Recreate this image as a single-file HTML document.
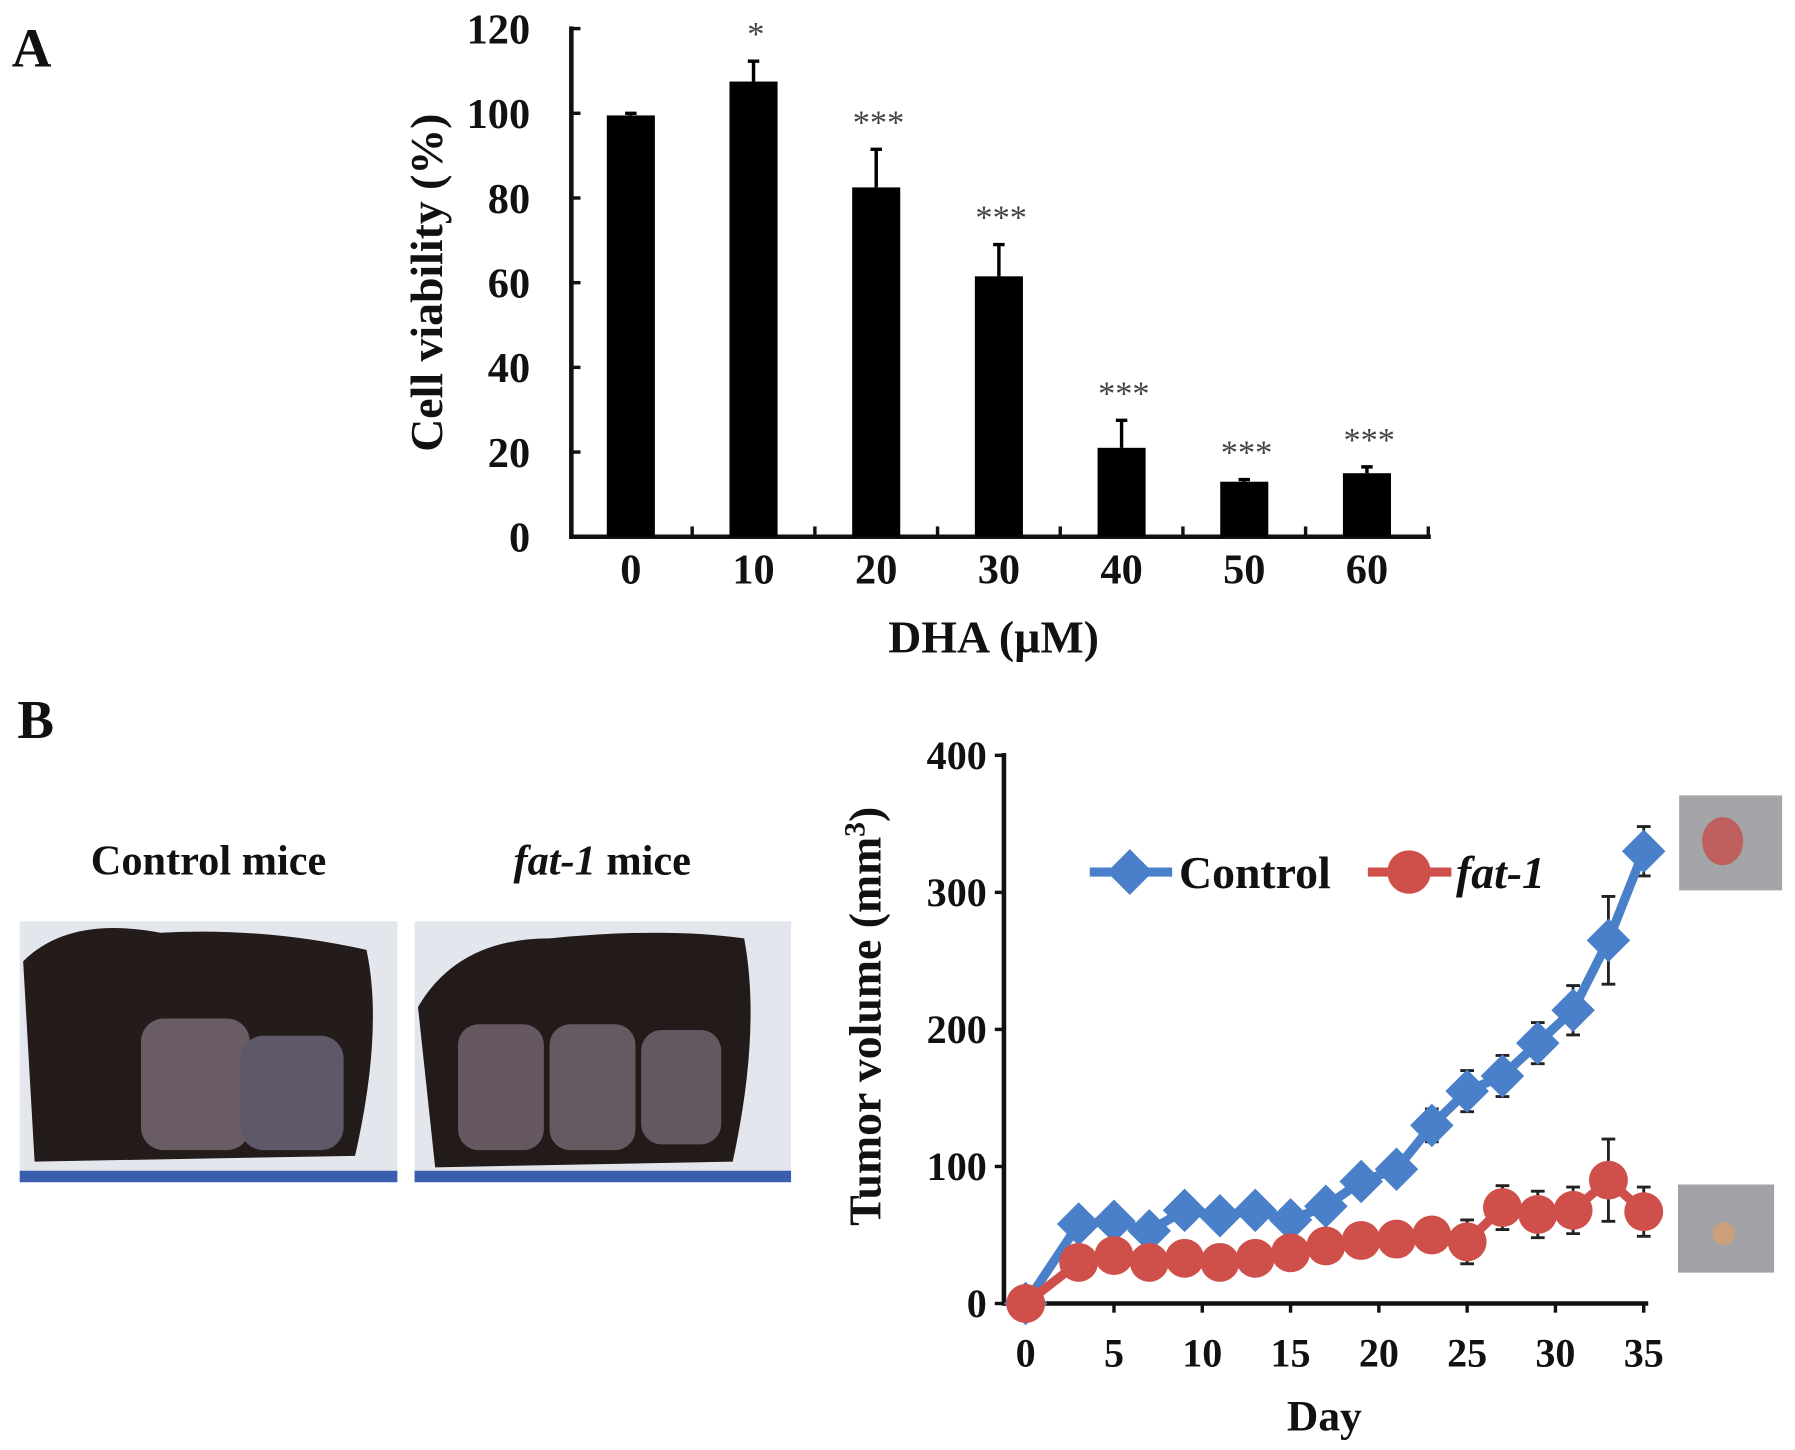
<!DOCTYPE html>
<html><head><meta charset="utf-8"><style>
html,body{margin:0;padding:0;background:#fff;}
svg{display:block;}
text{font-family:"Liberation Serif",serif;font-weight:bold;fill:#111;}
</style></head><body>
<svg id="fig" width="1795" height="1450" viewBox="0 0 1568 1267" xmlns="http://www.w3.org/2000/svg">
<text x="10" y="58" font-size="48">A</text>
<text x="15" y="645" font-size="48">B</text>
<g id="chartA"></g>
<text x="868" y="570" font-size="40" text-anchor="middle">DHA (µM)</text>
<text transform="translate(386,247) rotate(-90)" font-size="40" text-anchor="middle">Cell viability (%)</text>

<text x="182" y="764" font-size="37" text-anchor="middle">Control mice</text>
<text x="526" y="764" font-size="37" text-anchor="middle"><tspan font-style="italic">fat-1</tspan> mice</text>

<g>
<rect x="17" y="805" width="330" height="228" fill="#e4e6ee"/>
<path d="M20 840 Q60 800 140 815 Q230 810 320 830 Q335 900 310 1010 L30 1015 Z" fill="#231c1a"/>
<rect x="123" y="890" width="95" height="115" rx="20" fill="#6a5c64"/>
<rect x="210" y="905" width="90" height="100" rx="20" fill="#5f5868"/>
<rect x="17" y="1023" width="330" height="10" fill="#3a5fae"/>
</g>
<g>
<rect x="362" y="805" width="329" height="228" fill="#e4e6ee"/>
<path d="M365 880 Q400 820 480 820 Q580 810 650 820 Q665 900 640 1015 L380 1020 Z" fill="#221b1a"/>
<rect x="400" y="895" width="75" height="110" rx="18" fill="#655860"/>
<rect x="480" y="895" width="75" height="110" rx="18" fill="#665a62"/>
<rect x="560" y="900" width="70" height="100" rx="18" fill="#625860"/>
<rect x="362" y="1023" width="329" height="10" fill="#3a5fae"/>
</g>
<g>
<rect x="1467" y="695" width="90" height="83" fill="#a3a5a8"/>
<ellipse cx="1505" cy="735" rx="18" ry="21" fill="#c0605e"/>
</g>
<g>
<rect x="1466" y="1035" width="84" height="77" fill="#a0a2a5"/>
<circle cx="1506" cy="1078" r="10" fill="#c9a07a"/>
</g>
<g id="chartB"></g>
<text x="1157" y="1250" font-size="38" text-anchor="middle">Day</text>
<text transform="translate(769,888) rotate(-90)" font-size="40" text-anchor="middle">Tumor volume (mm<tspan font-size="26" dy="-14">3</tspan><tspan dy="14">)</tspan></text>
</svg>
<script>
const NS='http://www.w3.org/2000/svg';
function mk(tag,attrs,parent){const e=document.createElementNS(NS,tag);for(const k in attrs)e.setAttribute(k,attrs[k]);parent.appendChild(e);return e;}

// ---- Chart A data ----
const doseCats=['0','10','20','30','40','50','60'];
const viability=[99.5,107.5,82.5,61.5,21,13,15];
const viabilityErr=[0.5,4.8,9,7.5,6.5,0.5,1.5];
const signif=['','*','***','***','***','***','***'];
const yTicksA=[0,20,40,60,80,100,120];

// ---- Chart B data ----
const days=[0,3,5,7,9,11,13,15,17,19,21,23,25,27,29,31,33,35];
const controlVol=[0,58,60,53,68,64,68,61,71,89,98,130,155,166,190,214,265,330];
const controlErr=[0,5,4,4,4,4,4,4,5,8,10,12,15,15,15,18,32,18];
const fatVol=[0,30,35,30,33,30,33,37,42,46,47,50,45,70,65,68,90,67];
const fatErr=[0,3,3,3,3,3,3,3,4,6,10,10,16,16,17,17,30,18];
const yTicksB=[0,100,200,300,400];
const xTicksB=[0,5,10,15,20,25,30,35];

// Chart A
(function(){
 const g=document.getElementById('chartA');
 const x0=499,x1=1250,yb=469,yt=25;
 const y=v=>yb-(v/120)*(yb-yt);
 const step=107.2, xc=i=>551+i*step;
 let e=mk('line',{x1:x0,y1:yt-2,x2:x0,y2:yb+2,stroke:'#111','stroke-width':4},g);
 
 
 e=mk('line',{x1:x0,y1:yb,x2:x1,y2:yb,stroke:'#111','stroke-width':4},g);
 
 
 yTicksA.forEach(v=>{
  mk('line',{x1:x0,y1:y(v),x2:x0+8,y2:y(v),stroke:'#111','stroke-width':3},g);
  const t=mk('text',{x:463,y:y(v)+13,'font-size':37,'text-anchor':'end'},g);t.textContent=v;
  
  
 });
 doseCats.forEach((c,i)=>{
  mk('line',{x1:xc(i)+step/2,y1:yb,x2:xc(i)+step/2,y2:yb-9,stroke:'#111','stroke-width':3},g);
  const t=mk('text',{x:xc(i),y:510,'font-size':37,'text-anchor':'middle'},g);t.textContent=c;
  
  
  const b=mk('rect',{x:xc(i)-21,y:y(viability[i]),width:42,height:yb-y(viability[i]),fill:'#000'},g);
  
  
  const top=y(viability[i]+viabilityErr[i]);
  const eb=mk('path',{d:`M${xc(i)} ${y(viability[i])} V${top} M${xc(i)-5} ${top} H${xc(i)+5}`,stroke:'#000','stroke-width':3,fill:'none'},g);
  
  
  if(signif[i]){const s=mk('text',{x:xc(i)+2,y:top-14,'font-size':30,'text-anchor':'middle',style:'fill:#444;font-weight:normal'},g);s.textContent=signif[i];
  
  }
 });
})();

// Chart B
(function(){
 const g=document.getElementById('chartB');
 const x0=877,x1=1440,yb=1139,yt=660;
 const y=v=>yb-(v/400)*(yb-yt);
 const x=d=>896+d*15.43;
 let e=mk('line',{x1:x0,y1:yt-2,x2:x0,y2:yb+2,stroke:'#111','stroke-width':4},g);
 
 
 e=mk('line',{x1:x0,y1:yb,x2:x1,y2:yb,stroke:'#111','stroke-width':4},g);
 
 
 yTicksB.forEach(v=>{
  mk('line',{x1:x0-8,y1:y(v),x2:x0,y2:y(v),stroke:'#111','stroke-width':3},g);
  const t=mk('text',{x:862,y:y(v)+12,'font-size':35,'text-anchor':'end'},g);t.textContent=v;
  
  
 });
 xTicksB.forEach(v=>{
  mk('line',{x1:x(v),y1:yb,x2:x(v),y2:yb+8,stroke:'#111','stroke-width':3},g);
  const t=mk('text',{x:x(v),y:1194,'font-size':35,'text-anchor':'middle'},g);t.textContent=v;
  
  
 });
 function series(vals,errs,color,shape,name){
  const sg=mk('g',{},g);
  
  
  days.forEach((d,i)=>{if(errs[i]>0){const p=mk('path',{d:`M${x(d)} ${y(vals[i]-errs[i])} V${y(vals[i]+errs[i])} M${x(d)-6} ${y(vals[i]-errs[i])} H${x(d)+6} M${x(d)-6} ${y(vals[i]+errs[i])} H${x(d)+6}`,stroke:'#222','stroke-width':2.5,fill:'none'},sg);
   
   }});
  const pl=mk('polyline',{points:days.map((d,i)=>x(d)+','+y(vals[i])).join(' '),fill:'none',stroke:color,'stroke-width':8,'stroke-linejoin':'round'},sg);
  
  
  days.forEach((d,i)=>{
   const cx=x(d),cy=y(vals[i]);
   let m;
   if(shape==='d') m=mk('path',{d:`M${cx} ${cy-19} L${cx+19} ${cy} L${cx} ${cy+19} L${cx-19} ${cy} Z`,fill:color},sg);
   else m=mk('circle',{cx,cy,r:17,fill:color},sg);
   
   
  });
 }
 series(controlVol,controlErr,'#4a80c9','d','control');
 series(fatVol,fatErr,'#cf4f4a','c','fat1');
 // legend
 const lg=mk('g',{},g);
 
 
 mk('line',{x1:952,y1:762,x2:1024,y2:762,stroke:'#4a80c9','stroke-width':8},lg);
 mk('path',{d:'M987 742 L1007 762 L987 782 L967 762 Z',fill:'#4a80c9'},lg);
 let t=mk('text',{x:1030,y:776,'font-size':40},lg);t.textContent='Control';
 
 
 mk('line',{x1:1195,y1:762,x2:1268,y2:762,stroke:'#cf4f4a','stroke-width':8},lg);
 mk('circle',{cx:1231,cy:762,r:19,fill:'#cf4f4a'},lg);
 t=mk('text',{x:1272,y:776,'font-size':40,'font-style':'italic'},lg);t.textContent='fat-1';
 
 
})();
</script>
</body></html>
